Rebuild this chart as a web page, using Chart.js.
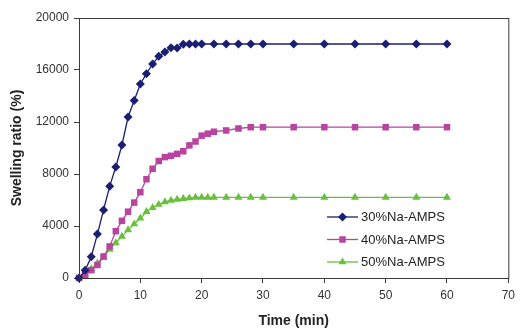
<!DOCTYPE html>
<html>
<head>
<meta charset="utf-8">
<script src="https://cdn.jsdelivr.net/npm/chart.js@4.4.1/dist/chart.umd.min.js"></script>
<style>
  body { margin: 0; background: #fff; }
  #wrap { width: 520px; height: 330px; }
</style>
</head>
<body>
<div id="wrap"><canvas id="swell" width="520" height="330"></canvas></div>
<script>
// time (min) for each series
const time30 = [0,1,2,3,4,5,6,7,8,9,10,11,12,13,14,15,16,17,18,19,20,22,24,26,28,30,35,40,45,50,55,60];
const time40 = [0,1,2,3,4,5,6,7,8,9,10,11,12,13,14,15,16,17,18,19,20,21,22,24,26,28,30,35,40,45,50,55,60];
const time50 = [0,1,2,3,4,5,6,7,8,9,10,11,12,13,14,15,16,17,18,19,20,21,22,24,26,28,30,35,40,45,50,55,60];

// swelling ratio (%)
const ratio30 = [0,590,1640,3380,5230,7050,8540,10230,12385,13660,14920,15715,16460,17050,17380,17715,17690,17980,18000,18000,18000,
                 18000,18000,18000,18000,18000,18000,18000,18000,18000,18000,18000];
const ratio40 = [0,250,600,1000,1650,2430,3600,4400,5100,5800,6600,7600,8400,9000,9300,9400,9550,9750,10200,10500,10950,11100,11250,
                 11350,11500,11600,11600,11600,11600,11600,11600,11600,11600];
const ratio50 = [0,300,700,1150,1600,2200,2700,3200,3700,4150,4600,5100,5400,5650,5850,5970,6050,6100,6150,6200,6200,6200,
                 6200,6200,6200,6200,6200,6200,6200,6200,6200,6200,6200];

const seriesNames = ['30%Na-AMPS', '40%Na-AMPS', '50%Na-AMPS'];
const xTicks = [0, 10, 20, 30, 40, 50, 60, 70];
const yTicks = [0, 4000, 8000, 12000, 16000, 20000];

const FONT = '"Liberation Sans", Arial, sans-serif';
const colors = ['#1b1f72', '#b8449f', '#68c03c'];
const shapes = ['rectRot', 'rect', 'triangle'];
const sizes = [4.5, 4.6, 4.6];

function pairs(t, v) {
  return t.map((x, i) => ({ x: x, y: v[i] }));
}

// marker drawn by hand for the legend
function marker(ctx, shape, x, y, r) {
  ctx.beginPath();
  if (shape === 'rectRot') {
    ctx.moveTo(x, y - r); ctx.lineTo(x + r, y); ctx.lineTo(x, y + r); ctx.lineTo(x - r, y);
  } else if (shape === 'rect') {
    const h = r * Math.SQRT1_2;
    ctx.rect(x - h, y - h, 2 * h, 2 * h);
  } else {
    ctx.moveTo(x, y - r); ctx.lineTo(x + r * 0.87, y + r * 0.5); ctx.lineTo(x - r * 0.87, y + r * 0.5);
  }
  ctx.closePath();
  ctx.fill();
}

const boxAndLegend = {
  id: 'boxAndLegend',
  afterDraw(chart) {
    const ctx = chart.ctx;
    const a = chart.chartArea;
    ctx.save();
    ctx.strokeStyle = '#3a3a3a';
    ctx.lineWidth = 1;
    ctx.strokeRect(a.left + 0.5, a.top + 0.5, a.right - a.left, a.bottom - a.top);

    // legend inside the plot
    const lx1 = 327, lx2 = 358, ly = [217, 239.5, 262];
    ctx.font = '13px ' + FONT;
    ctx.textBaseline = 'middle';
    chart.data.datasets.forEach((ds, i) => {
      ctx.strokeStyle = ds.borderColor;
      ctx.fillStyle = ds.borderColor;
      ctx.lineWidth = 1.3;
      ctx.beginPath();
      ctx.moveTo(lx1, ly[i]); ctx.lineTo(lx2, ly[i]);
      ctx.stroke();
      marker(ctx, shapes[i], (lx1 + lx2) / 2, ly[i], sizes[i]);
      ctx.fillStyle = '#222';
      ctx.fillText(ds.label, lx2 + 3, ly[i] + 0.5);
    });
    ctx.restore();
  }
};

const ctx = document.getElementById('swell').getContext('2d');
new Chart(ctx, {
  type: 'line',
  data: {
    datasets: [
      { label: seriesNames[0], data: pairs(time30, ratio30) },
      { label: seriesNames[1], data: pairs(time40, ratio40) },
      { label: seriesNames[2], data: pairs(time50, ratio50) }
    ].map((d, i) => Object.assign(d, {
      borderColor: colors[i],
      backgroundColor: colors[i],
      borderWidth: 1.3,
      pointStyle: shapes[i],
      pointRadius: sizes[i],
      pointBorderWidth: 0,
      pointBackgroundColor: colors[i],
      tension: 0,
      fill: false,
      clip: false
    }))
  },
  options: {
    responsive: false,
    animation: false,
    layout: { padding: { top: 18, right: 9, left: 0, bottom: 0 } },
    plugins: { legend: { display: false }, tooltip: { enabled: false } },
    scales: {
      x: {
        type: 'linear',
        min: 0, max: 70,
        afterBuildTicks: s => { s.ticks = xTicks.map(v => ({ value: v })); },
        afterFit: s => { s.height = 52; },
        ticks: { color: '#333', font: { size: 12, family: FONT }, padding: 5, maxRotation: 0, callback: v => String(v) },
        grid: { display: true, drawOnChartArea: false, drawTicks: true, tickLength: 5, color: '#3a3a3a' },
        border: { display: true, color: '#3a3a3a' },
        title: { display: true, text: 'Time (min)', color: '#222', font: { size: 14, weight: 'bold', family: FONT }, padding: { top: 0, bottom: 0 } }
      },
      y: {
        min: 0, max: 20000,
        afterBuildTicks: s => { s.ticks = yTicks.map(v => ({ value: v })); },
        afterFit: s => { s.width = 79; },
        ticks: { color: '#333', font: { size: 12, family: FONT }, padding: 5, callback: v => String(v) },
        grid: { display: true, drawOnChartArea: false, drawTicks: true, tickLength: 5, color: '#3a3a3a' },
        border: { display: true, color: '#3a3a3a' },
        title: { display: true, text: 'Swelling ratio (%)', color: '#222', font: { size: 14, weight: 'bold', family: FONT }, padding: { top: 9, bottom: 0 } }
      }
    }
  },
  plugins: [boxAndLegend]
});
</script>
</body>
</html>
